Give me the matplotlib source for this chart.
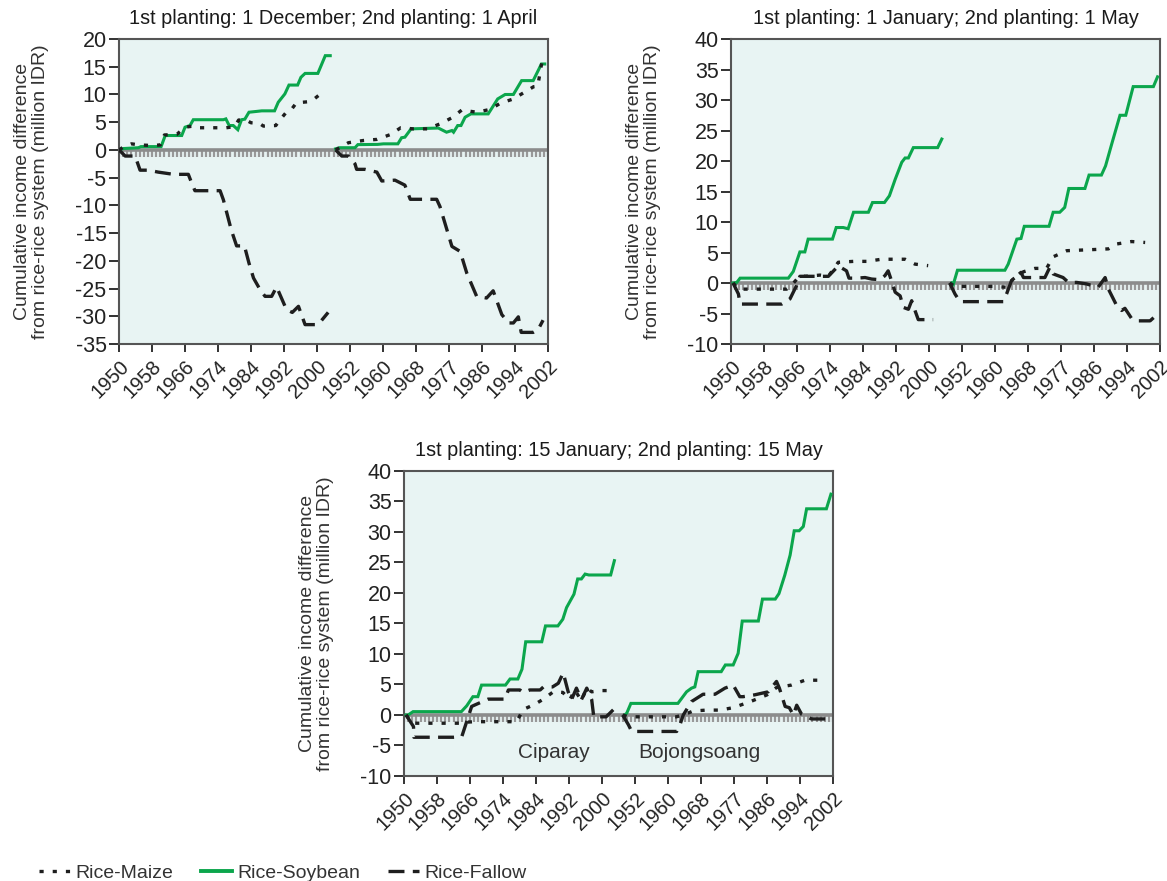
import numpy as np
import matplotlib
matplotlib.use("Agg")
import matplotlib.pyplot as plt
from matplotlib.lines import Line2D

plt.rcParams['font.family'] = ['Liberation Sans', 'DejaVu Sans']
plt.rcParams['lines.scale_dashes'] = False
plt.rcParams['axes.unicode_minus'] = False

# category positions (0..104) carry two site blocks: Ciparay then Bojongsoang
tick_pos = list(range(0, 105, 8))
tick_labels = ['1950', '1958', '1966', '1974', '1984', '1992', '2000',
               '1952', '1960', '1968', '1977', '1986', '1994', '2002']

titles = ['1st planting: 1 December; 2nd planting: 1 April',
          '1st planting: 1 January; 2nd planting: 1 May',
          '1st planting: 15 January; 2nd planting: 15 May']

# ---- panel 1 (1 Dec / 1 Apr) ----
p1_cip_soy_x = [0, 1, 4.7, 5.3, 10.2, 11.2, 15.2, 16, 17.2, 18, 25.3, 25.9, 26.7, 27.7, 28.8, 29.7, 30.5,
                31.5, 33.4, 34.6, 37.7, 38.6, 40.2, 41.2, 43.3, 44.1, 45.1, 48.2, 50, 51.2]
p1_cip_soy_y = [0, 0.25, 0.4, 0.6, 0.6, 2.6, 2.6, 4.1, 4.4, 5.45, 5.45, 5.6, 4.4, 4.4, 3.65, 5.45, 5.55,
                6.8, 6.95, 7.05, 7.05, 8.6, 10.1, 11.7, 11.7, 13.1, 13.8, 13.8, 17.0, 17.0]
p1_cip_maize_x = [0, 1, 3, 5, 8, 10, 11, 14, 16, 18, 19, 26, 28, 29, 31, 32, 34, 35, 38, 39, 41, 42, 43,
                  46, 47, 49]
p1_cip_maize_y = [0, 0.5, 1.1, 0.9, 0.8, 0.9, 2.7, 2.8, 4.1, 4.3, 4.0, 4.0, 4.2, 5.4, 5.3, 4.9, 4.8, 4.3,
                  4.4, 5.4, 7.2, 7.5, 8.5, 8.7, 9.0, 10.2]
p1_cip_fallow_x = [0, 1.5, 3.9, 5.1, 7.1, 9.5, 13.2, 16.8, 17.5, 18.4, 24.5, 25.3, 27.2, 28.5, 30.4, 31.5,
                   32.6, 34.2, 35.4, 37, 38.2, 40.6, 42, 43.5, 45.1, 47.9, 48.7, 50.7]
p1_cip_fallow_y = [0, -1.1, -1.1, -3.65, -3.65, -4.0, -4.4, -4.4, -5.75, -7.35, -7.35, -9.0, -14.4, -17.3,
                   -17.3, -20.4, -23.1, -25.2, -26.4, -26.4, -24.7, -28.8, -29.3, -28.2, -31.5, -31.5,
                   -31.1, -29.3]
p1_boj_soy_x = [52.5, 53.5, 57.2, 57.9, 62.7, 64.1, 67.6, 68.5, 69.3, 70.8, 77.4, 79.4, 80.7, 81.1, 82.1,
                82.9, 83.9, 85.3, 89.5, 91.8, 93.6, 95.6, 97.6, 100.4, 102.4, 103.2]
p1_boj_soy_y = [0.2, 0.4, 0.4, 0.96, 1.0, 1.1, 1.1, 2.2, 2.3, 3.8, 3.95, 3.2, 3.5, 3.2, 4.4, 4.4, 5.9,
                6.5, 6.5, 9.2, 10.0, 10.0, 12.5, 12.5, 15.5, 15.5]
p1_boj_maize_x = [52.5, 55.6, 59.2, 62.5, 65.7, 68.3, 71.3, 74.8, 77.8, 80.7, 83.1, 86.7, 89.9, 92.4,
                  95.6, 100.5, 101.5, 102.6]
p1_boj_maize_y = [0, 1.3, 1.7, 1.9, 2.75, 4.0, 3.8, 3.8, 4.7, 5.8, 7.2, 6.8, 7.3, 8.4, 9.2, 11.4, 11.5,
                  16.2]
p1_boj_fallow_x = [52.5, 54, 55.6, 57.2, 57.6, 59.6, 62.5, 63.7, 66.9, 69.3, 70.6, 73.8, 77, 77.8, 80.7,
                   82.7, 84.3, 86.7, 89.1, 90.7, 92.8, 94.5, 95.6, 96.8, 97.5, 100.4, 101.6, 102.8]
p1_boj_fallow_y = [0, -1.1, -1.1, -2.5, -3.5, -3.5, -4.0, -5.6, -5.45, -6.35, -8.9, -8.9, -8.9, -10.2,
                   -17.4, -18.3, -22.2, -26.4, -26.7, -25.4, -29.7, -31.2, -31.2, -30.1, -32.9, -32.9,
                   -32.4, -30.7]

# ---- panel 2 (1 Jan / 1 May) ----
p2_cip_soy_x = [0.5, 1.4, 2.2, 13.9, 15.1, 16.7, 17.9, 18.7, 24.6, 25.5, 27.2, 28.4, 29.7, 33.3, 34.3,
                37.2, 38.4, 39.8, 41.4, 42.2, 43, 44.2, 50.1, 51.1]
p2_cip_soy_y = [0, 0.1, 0.8, 0.8, 1.9, 5.1, 5.1, 7.2, 7.2, 9.1, 9.1, 8.9, 11.6, 11.6, 13.2, 13.2, 14.3,
                17.0, 19.8, 20.5, 20.5, 22.2, 22.2, 23.6]
p2_cip_maize_x = [0.5, 1.8, 3.8, 13.5, 14.5, 16.7, 18, 21.6, 23.6, 26, 29.7, 32.9, 36.5, 42.2, 44.6, 47.8]
p2_cip_maize_y = [0, -1.0, -1.0, -1.0, -0.5, 1.2, 1.1, 1.3, 1.1, 3.4, 3.55, 3.55, 3.9, 3.9, 3.1, 2.85]
p2_cip_fallow_x = [0.5, 1.8, 2.2, 6.2, 12.3, 14.3, 15.9, 16.7, 19.9, 23.6, 26, 28, 28.6, 30.5, 32.5, 34.1,
                   36.1, 37.3, 38.1, 38.9, 39.8, 41, 41.8, 43, 43.8, 44.6, 45.4, 49]
p2_cip_fallow_y = [0, -1.8, -3.45, -3.45, -3.45, -2.6, -0.4, 1.1, 1.1, 1.1, 2.8, 2.0, 0.8, 0.8, 0.9, 0.65,
                   0.55, 1.2, 2.0, 0.4, -1.5, -2.1, -4.0, -4.3, -2.9, -4.5, -6.0, -6.0]
p2_boj_soy_x = [53.5, 53.9, 54.9, 66.4, 67.2, 69.3, 70.3, 71.1, 77.1, 78.1, 79.7, 80.9, 81.9, 85.8, 86.8,
                89.8, 90.8, 92.3, 94.3, 95.7, 97.5, 102.4, 103.4]
p2_boj_soy_y = [0, -0.2, 2.1, 2.1, 3.1, 7.2, 7.3, 9.3, 9.3, 11.6, 11.6, 12.4, 15.5, 15.5, 17.7, 17.7,
                19.2, 22.8, 27.5, 27.5, 32.2, 32.2, 33.8]
p2_boj_maize_x = [53, 54.3, 56.3, 63.6, 66.8, 68.4, 70.9, 73.7, 76.5, 78.1, 81.4, 88.3, 91.5, 93.5, 97.1,
                  100.4]
p2_boj_maize_y = [0, -0.55, -0.55, -0.55, -0.7, 0.65, 1.85, 2.4, 2.4, 4.3, 5.3, 5.5, 5.6, 6.4, 6.8, 6.65]
p2_boj_fallow_x = [53, 54.3, 55.5, 59.6, 66, 66.8, 68, 70.3, 70.9, 73.3, 76.1, 77.3, 78.1, 80.5, 81.8,
                   83.8, 86.2, 89, 90.7, 91.5, 93.5, 94.7, 95.5, 97.2, 98.7, 101.6, 103.4]
p2_boj_fallow_y = [0, -1.8, -3.05, -3.05, -3.05, -1.8, 0.4, 1.75, 0.9, 0.9, 0.9, 2.6, 1.5, 0.9, 0.1, 0.1,
                   -0.15, -0.7, 0.9, -1.0, -3.7, -4.5, -4.15, -5.9, -6.2, -6.2, -5.1]

# ---- panel 3 (15 Jan / 15 May) ----
p3_cip_soy_x = [0.5, 1.0, 2.2, 13.9, 15.2, 16.7, 17.9, 18.8, 24.6, 25.7, 27.6, 28.6, 29.5, 33.4, 34.3,
                37.3, 38.5, 39.4, 41.2, 42.1, 43, 43.9, 44.8, 50.1, 51]
p3_cip_soy_y = [0, 0, 0.55, 0.55, 1.5, 3.0, 3.0, 4.9, 4.9, 5.9, 5.9, 7.5, 12.0, 12.0, 14.6, 14.6, 15.7,
                17.6, 19.8, 22.3, 22.3, 23.1, 22.95, 22.95, 25.3]
p3_cip_maize_x = [0.5, 2, 3.1, 13.6, 14.5, 17.2, 27.3, 28.9, 31.7, 33.8, 36.2, 38.5, 40.2, 41.4, 43, 44.3,
                  45.5, 47.5, 50.5]
p3_cip_maize_y = [0, -1.35, -1.35, -1.35, -1.2, -1.1, -1.1, 0.9, 1.75, 2.6, 3.8, 3.7, 2.5, 4.1, 2.35,
                  4.4, 3.8, 4.0, 4.0]
p3_cip_fallow_x = [0.5, 2.3, 2.4, 5.5, 12, 14, 16.4, 17.2, 20.4, 24.5, 25.3, 28.1, 28.9, 30.5, 33, 33.8,
                   36, 37.4, 38.6, 39.8, 40.6, 41.8, 43, 44.3, 45.5, 46, 47.5, 49, 51.1]
p3_cip_fallow_y = [0, -1.9, -3.65, -3.65, -3.65, -3.55, 1.4, 1.65, 2.6, 2.6, 4.1, 4.1, 3.7, 4.1, 4.1,
                   4.6, 4.6, 5.2, 6.9, 3.8, 2.5, 4.4, 2.5, 4.4, 2.5, -0.3, -0.3, -0.3, 1.1]
p3_boj_soy_x = [53.5, 54, 55, 66.4, 68.5, 69.7, 70.5, 71.3, 76.9, 77.9, 79.8, 81, 82, 85.9, 86.9, 90,
                90.9, 92.3, 93.6, 94.6, 95.8, 96.8, 97.6, 102.4, 103.5]
p3_boj_soy_y = [0, 0.3, 1.9, 1.9, 3.8, 4.4, 4.6, 7.1, 7.1, 8.2, 8.2, 10.1, 15.4, 15.4, 19.0, 19.0, 19.9,
                22.9, 26.2, 30.2, 30.2, 30.9, 33.8, 33.8, 36.2]
p3_boj_maize_x = [53, 54.4, 57, 66, 67.7, 70.1, 73.3, 76.6, 79.8, 84, 88, 90.3, 93.9, 97.2, 100.8]
p3_boj_maize_y = [0, -0.3, -0.3, -0.3, 0, 0.65, 0.8, 0.8, 1.2, 2.2, 3.3, 4.5, 4.9, 5.7, 5.7]
p3_boj_fallow_x = [53, 54.4, 55.2, 59.6, 66.1, 66.9, 67.7, 69.7, 72.5, 75.4, 77.8, 79.8, 81.4, 82.2, 85,
                   88.3, 90.3, 91, 92.4, 93.4, 94.4, 95.2, 96.4, 98.8, 102.4]
p3_boj_fallow_y = [0, -1.6, -2.7, -2.7, -2.7, -1.6, 0, 2.2, 3.4, 3.4, 4.4, 4.9, 3.0, 3.0, 3.3, 3.8, 5.5,
                   4.4, 1.4, 1.2, 0, 1.6, 0.1, -0.65, -0.65]

site_labels = ['Ciparay', 'Bojongsoang']

GREEN = '#0ba64c'
BLACK = '#1e1e1e'
BG = '#e8f4f3'
MAIZE_DASH = (3, 6.5)
FALLOW_DASH = (11.5, 6)

panels = [
    dict(pos=[0.102, 0.6095, 0.3676, 0.3462], ylim=(-35, 20), title=titles[0],
         series=[(p1_cip_soy_x, p1_cip_soy_y, p1_cip_maize_x, p1_cip_maize_y, p1_cip_fallow_x, p1_cip_fallow_y),
                 (p1_boj_soy_x, p1_boj_soy_y, p1_boj_maize_x, p1_boj_maize_y, p1_boj_fallow_x, p1_boj_fallow_y)]),
    dict(pos=[0.6264, 0.6095, 0.3676, 0.3462], ylim=(-10, 40), title=titles[1],
         series=[(p2_cip_soy_x, p2_cip_soy_y, p2_cip_maize_x, p2_cip_maize_y, p2_cip_fallow_x, p2_cip_fallow_y),
                 (p2_boj_soy_x, p2_boj_soy_y, p2_boj_maize_x, p2_boj_maize_y, p2_boj_fallow_x, p2_boj_fallow_y)]),
    dict(pos=[0.3462, 0.1192, 0.3676, 0.3462], ylim=(-10, 40), title=titles[2],
         series=[(p3_cip_soy_x, p3_cip_soy_y, p3_cip_maize_x, p3_cip_maize_y, p3_cip_fallow_x, p3_cip_fallow_y),
                 (p3_boj_soy_x, p3_boj_soy_y, p3_boj_maize_x, p3_boj_maize_y, p3_boj_fallow_x, p3_boj_fallow_y)]),
]

fig = plt.figure(figsize=(11.67, 8.81), dpi=100)

for k, p in enumerate(panels):
    ax = fig.add_axes(p['pos'])
    ax.set_facecolor(BG)
    y0, y1 = p['ylim']
    ax.set_xlim(0, 104)
    ax.set_ylim(y0, y1)

    # excel-like category axis crossing at zero
    band = (y1 - y0) * 0.023
    ax.vlines(np.arange(0, 105), -band, 0, colors='#989898', lw=1.6, zorder=1.5)
    ax.axhline(0, color='#8c8c8c', lw=2.6, zorder=1.6)

    for sx, sy, mx, my, fx, fy in p['series']:
        ax.plot(sx, sy, color=GREEN, lw=2.2, zorder=3, solid_joinstyle='miter')
        ax.plot(mx, my, color=BLACK, lw=2.4, dashes=MAIZE_DASH, zorder=4)
        ax.plot(fx, fy, color=BLACK, lw=2.4, dashes=FALLOW_DASH, zorder=4)

    ax.set_yticks(np.arange(y0, y1 + 1, 5))
    ax.set_xticks(tick_pos)
    ax.set_xticklabels(tick_labels, rotation=45, ha='right', rotation_mode='anchor')
    ax.tick_params(axis='y', direction='out', length=7, width=1.3, colors='#222222', labelsize=15.5, pad=2)
    ax.tick_params(axis='x', direction='out', length=6, width=1.3, colors='#222222', labelsize=14.5, pad=3)
    for s in ax.spines.values():
        s.set_color('#555555')
        s.set_linewidth(1.5)
    ax.set_title(p['title'], fontsize=14.3, pad=11, color='#1a1a1a')
    ax.set_ylabel('Cumulative income difference\nfrom rice-rice system (million IDR)',
                  fontsize=14, color='#333333', labelpad=19, linespacing=1.05)

    if k == 2:
        ax.text(36.3, -6.1, site_labels[0], fontsize=15, color='#333333', ha='center', va='center')
        ax.text(71.6, -6.1, site_labels[1], fontsize=15, color='#333333', ha='center', va='center')

handles = [Line2D([], [], color=BLACK, lw=2.4, dashes=MAIZE_DASH),
           Line2D([], [], color=GREEN, lw=2.8),
           Line2D([], [], color=BLACK, lw=2.4, dashes=FALLOW_DASH)]
fig.legend(handles, ['Rice-Maize', 'Rice-Soybean', 'Rice-Fallow'], loc='lower left',
           bbox_to_anchor=(0.018, -0.021), ncol=3, frameon=False, fontsize=14,
           handlelength=1.6, handletextpad=0.3, columnspacing=1.4, labelcolor='#333333')

fig.savefig('out.png', dpi=100)
